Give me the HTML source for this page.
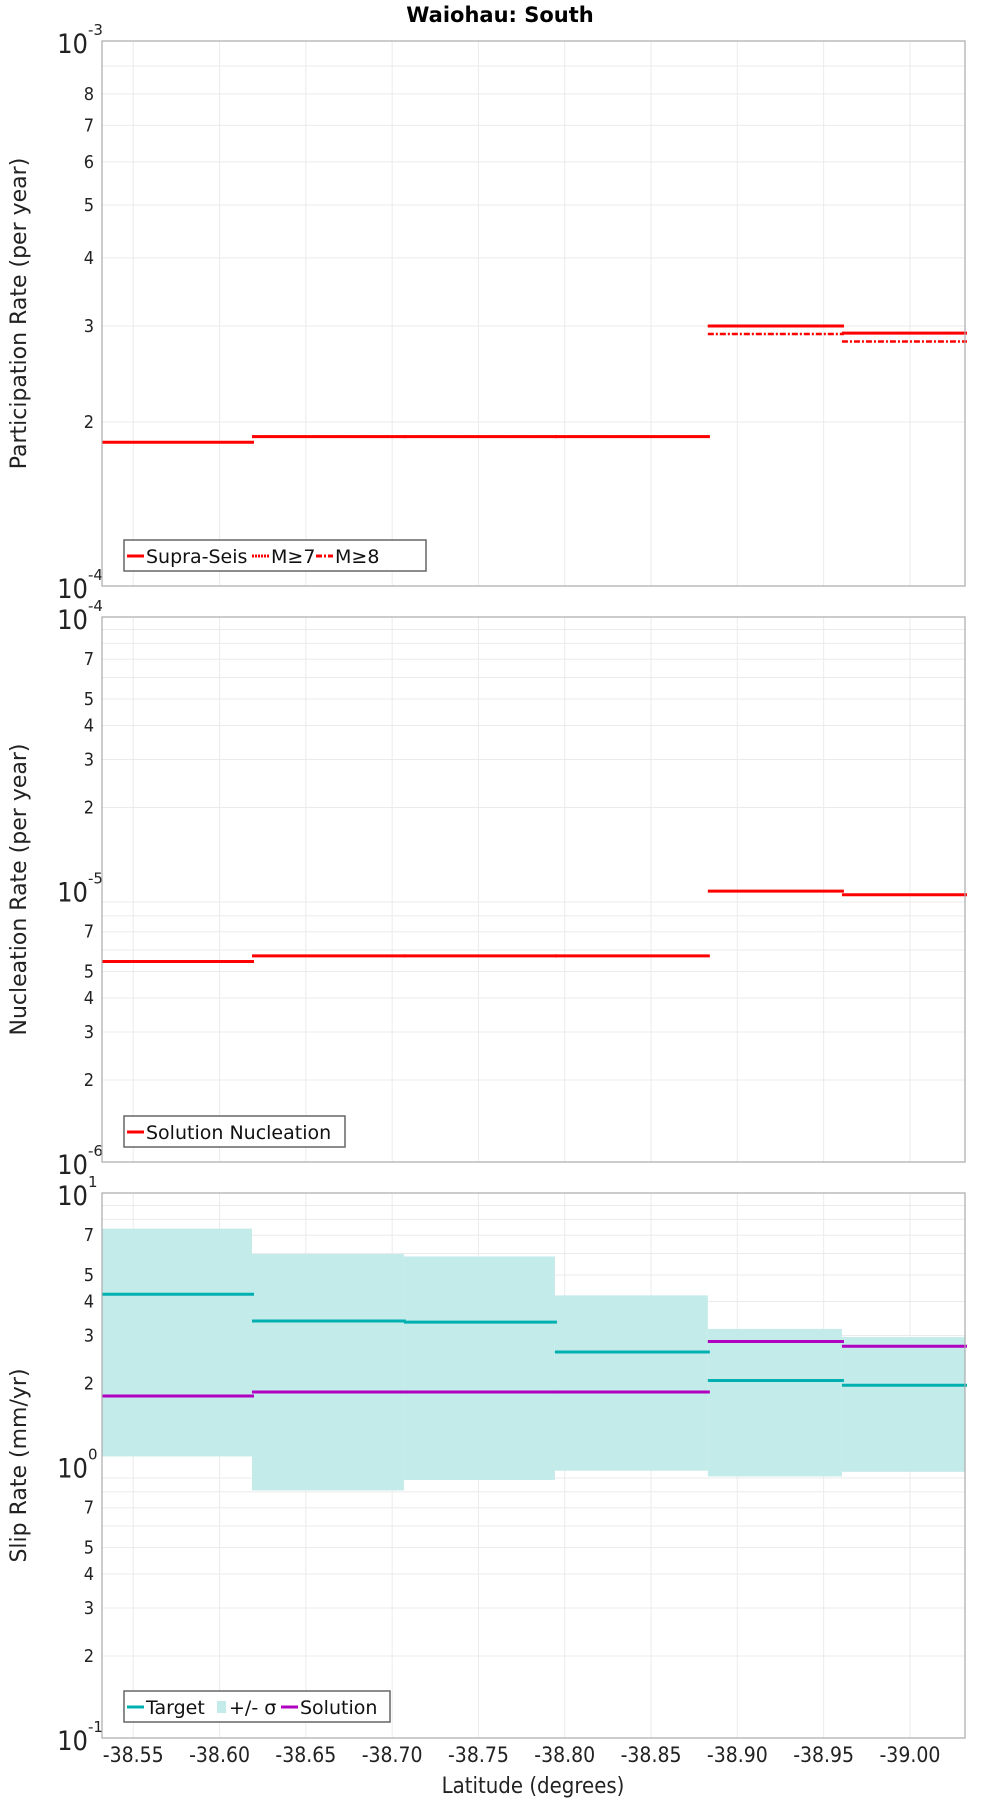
<!DOCTYPE html>
<html><head><meta charset="utf-8"><style>
body{margin:0;background:#fff;}
svg{display:block;font-family:"DejaVu Sans","Liberation Sans",sans-serif;}
.tick{font-family:"DejaVu Sans Condensed","DejaVu Sans","Liberation Sans",sans-serif;font-size:18px;fill:#222;}
</style></head><body>
<svg id="c" width="1000" height="1800" viewBox="0 0 1000 1800" xmlns="http://www.w3.org/2000/svg">
<text x="500" y="22" text-anchor="middle" font-size="21" font-weight="bold">Waiohau: South</text>
<text x="533" y="1793" text-anchor="middle" font-size="22" fill="#222" font-family="DejaVu Sans Condensed, DejaVu Sans, sans-serif">Latitude (degrees)</text>
</svg>
<script>
const binEdges = [-38.5319, -38.6188, -38.7068, -38.7943, -38.8829, -38.9606, -39.0319];
const xTicks = [-38.55, -38.60, -38.65, -38.70, -38.75, -38.80, -38.85, -38.90, -38.95, -39.00];
const supraSeis = [1.836e-4, 1.88e-4, 1.88e-4, 1.88e-4, 3.0e-4, 2.91e-4];
const m7 = [1.836e-4, 1.88e-4, 1.88e-4, 1.88e-4, 3.0e-4, 2.91e-4];
const m8 = [1.836e-4, 1.88e-4, 1.88e-4, 1.88e-4, 2.9e-4, 2.81e-4];
const nucleation = [5.44e-6, 5.71e-6, 5.71e-6, 5.71e-6, 9.86e-6, 9.57e-6];
const slipTarget = [4.25, 3.39, 3.36, 2.61, 2.05, 1.97];
const slipUpper = [7.40, 5.97, 5.85, 4.21, 3.17, 2.96];
const slipLower = [1.08, 0.81, 0.885, 0.957, 0.912, 0.948];
const slipSolution = [1.80, 1.86, 1.86, 1.86, 2.85, 2.74];

const NS='http://www.w3.org/2000/svg';
const svg=document.getElementById('c');
const L=102,R=965,H=545;
const xmin=binEdges[0], xmax=binEdges[binEdges.length-1];
function X(lat){return L+(lat-xmin)/(xmax-xmin)*(R-L);}
function mk(tag,attrs,parent){const e=document.createElementNS(NS,tag);for(const k in attrs)e.setAttribute(k,attrs[k]);(parent||svg).appendChild(e);return e;}

function panel(top,d0,d1,name,ylabel){
  const Y=v=>top+H-(Math.log10(v)-d0)/(d1-d0)*H;
  const g=mk('g',{});
  
  
  for(const t of xTicks){const l=mk('line',{x1:X(t),x2:X(t),y1:top,y2:top+H,stroke:'#ebebeb','stroke-width':1},g);
    }
  for(let d=d0;d<d1;d++){for(let m=2;m<=9;m++){const y=Y(m*Math.pow(10,d));
    const l=mk('line',{x1:L,x2:R,y1:y,y2:y,stroke:'#ebebeb','stroke-width':1},g);
    
    const span=d1-d0; const show = span===1 ? m<=8 : [2,3,4,5,7].includes(m);
    if(show){const t=mk('text',{x:L-8,y:y+6,'text-anchor':'end',class:'tick'},g);t.textContent=m;
      }
  }}
  for(let d=d0;d<=d1;d++){const y=Y(Math.pow(10,d));
    const t=mk('text',{x:L-14,y:y+12,'text-anchor':'end','font-size':27,fill:'#222','font-family':'DejaVu Sans Condensed, DejaVu Sans, sans-serif'},g);
    t.textContent='10';
    
    const s=mk('text',{x:L-14,y:y-6,'text-anchor':'start','font-size':15,fill:'#222'},g);s.textContent=String(d);
    }
  const yl=mk('text',{x:0,y:0,transform:`translate(26,${top+H/2}) rotate(-90)`,'text-anchor':'middle','font-size':22,fill:'#222'},g);
  yl.textContent=ylabel;
  return {g,Y};
}
function frame(top,g){const r=mk('rect',{x:L,y:top,width:R-L,height:H,fill:'none',stroke:'#aaa','stroke-width':1.2},g);
  }
function steps(arr,Y,g,color,dash,w,name){
  arr.forEach((v,i)=>{const l=mk('line',{x1:X(binEdges[i]),x2:X(binEdges[i+1])+2,y1:Y(v),y2:Y(v),stroke:color,'stroke-width':w},g);
    if(dash)l.setAttribute('stroke-dasharray',dash);
    });
}
function legend(x,y,w,items,g){
  const lg=mk('g',{},g);
  const r=mk('rect',{x:x,y:y,width:w,height:31,fill:'#fff',stroke:'#666','stroke-width':1.5},lg);
  
  let cx=x+3;
  items.forEach(it=>{
    let s;
    if(it.fill){s=mk('rect',{x:cx+1,y:y+10,width:9,height:12,fill:it.color},lg);cx+=13;}
    else{s=mk('line',{x1:cx,x2:cx+17,y1:y+16,y2:y+16,stroke:it.color,'stroke-width':3},lg);if(it.dash)s.setAttribute('stroke-dasharray',it.dash);cx+=19;}
    
    const t=mk('text',{x:cx,y:y+23,'font-size':19,fill:'#111'},lg);t.textContent=it.label;
    
    cx+=it.w;
  });
}

let p=panel(41,-4,-3,'participation-panel','Participation Rate (per year)');
steps(supraSeis,p.Y,p.g,'#f00',null,3,'supra-seis-line');
steps(m7,p.Y,p.g,'#f00','2,1',2.5,'m7-line');
steps(m8,p.Y,p.g,'#f00','6,2,2,2',2.5,'m8-line');
frame(41,p.g);
legend(124,540,302,[{color:'#f00',label:'Supra-Seis',w:106},{color:'#f00',dash:'2,1',label:'M≥7',w:45},{color:'#f00',dash:'6,2,2,2',label:'M≥8',w:50}],p.g);

p=panel(617,-6,-4,'nucleation-panel','Nucleation Rate (per year)');
steps(nucleation,p.Y,p.g,'#f00',null,3,'nucleation-line');
frame(617,p.g);
legend(124,1116,221,[{color:'#f00',label:'Solution Nucleation',w:190}],p.g);

p=panel(1193,-1,1,'slip-rate-panel','Slip Rate (mm/yr)');
slipUpper.forEach((u,i)=>{const y1=p.Y(u),y2=p.Y(slipLower[i]);
  const r=mk('rect',{x:X(binEdges[i]),y:y1,width:X(binEdges[i+1])-X(binEdges[i]),height:y2-y1,fill:'#c3ebea'},p.g);
  });
steps(slipTarget,p.Y,p.g,'#00b0b0',null,3,'target-line');
steps(slipSolution,p.Y,p.g,'#b000c0',null,3,'solution-line');
frame(1193,p.g);
legend(124,1691,266,[{color:'#00b0b0',label:'Target',w:70},{color:'#c3ebea',fill:true,label:'+/- σ',w:52},{color:'#b000c0',label:'Solution',w:80}],p.g);

xTicks.forEach(t=>{const e=mk('text',{x:X(t),y:1762,'text-anchor':'middle',class:'tick'});
  e.setAttribute('font-size','21');e.style.fontSize='21px';e.textContent=t.toFixed(2);
  });
</script>
</body></html>
